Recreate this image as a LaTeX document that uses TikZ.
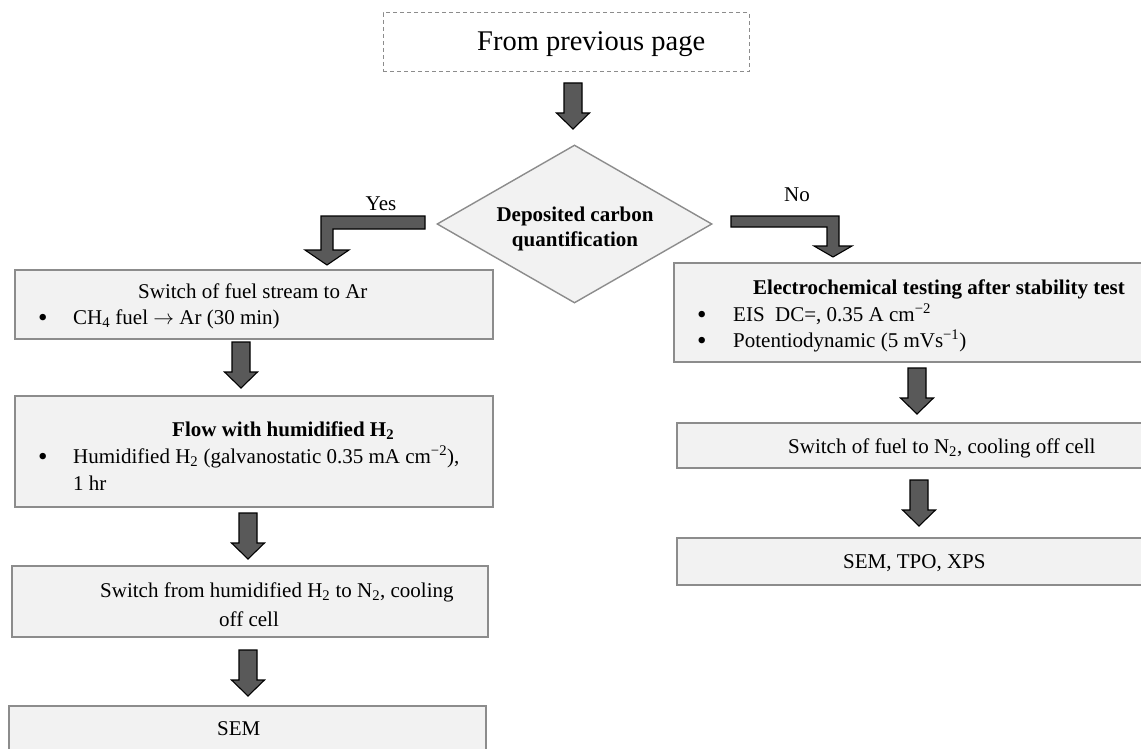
\documentclass[tikz,border=0pt]{standalone}
\usepackage{fontspec}
\setmainfont{Liberation Serif}
\usetikzlibrary{shapes.geometric}
\definecolor{boxfill}{HTML}{F2F2F2}
\definecolor{boxline}{HTML}{8C8C8C}
\definecolor{arrowfill}{HTML}{595959}
\tikzset{
  box/.style={rectangle, draw=boxline, fill=boxfill, line width=1.2pt, inner sep=0pt},
  txt/.style={inner sep=0pt, anchor=base west, font=\fontsize{21}{24}\selectfont},
  btxt/.style={inner sep=0pt, anchor=base west, font=\fontsize{21}{24}\selectfont\bfseries},
  bul/.style={inner sep=0pt, anchor=base west, font=\fontsize{27}{30}\selectfont},
  blk/.style={fill=arrowfill, draw=black, line width=1.1pt, line join=miter},
  pics/downarrow/.style={code={
    \filldraw[blk] (-9,0) -- (9,0) -- (9,30) -- (16.5,30) -- (0,46) -- (-16.5,30) -- (-9,30) -- cycle;}}
}
\begin{document}
\begin{tikzpicture}[x=1pt,y=-1pt]
\useasboundingbox (0,0) rectangle (1141,749);
\clip (0,0) rectangle (1141,749);
\fill[white] (0,0) rectangle (1141,749);

% top dashed box
\node[rectangle, draw=boxline, line width=1pt, dash pattern=on 4pt off 3pt, inner sep=0pt,
      minimum width=366pt, minimum height=59pt] (top) at (566,42.5) {};
\node[inner sep=0pt, anchor=base west, font=\fontsize{28.5}{32}\selectfont] (toptxt) at (477,51) {From previous page};
\pic at (573,83) {downarrow};

% decision
\node[diamond, draw=boxline, fill=boxfill, line width=1.4pt, inner sep=0pt, aspect=1.74,
      minimum width=275pt, minimum height=158pt] (dec) at (574.5,224) {};
\node[btxt, anchor=base] (dec1) at (575,221) {Deposited carbon};
\node[btxt, anchor=base] (dec2) at (575,246) {quantification};

% yes / no bent arrows
\coordinate (yesA) at (425,216);
\coordinate (noA) at (731,216);
\filldraw[blk] (yesA) -- (321,216) -- (321,250) -- (305,250) -- (327,265) -- (349,250) -- (333,250) -- (333,229) -- (425,229) -- cycle;
\filldraw[blk] (noA) -- (839,216) -- (839,246) -- (852,246) -- (833,257) -- (814,246) -- (827,246) -- (827,227) -- (731,227) -- cycle;
\node[txt, anchor=base] (yes) at (381,211) {Yes};
\node[txt, anchor=base] (no) at (797,201) {No};

% left column
\node[box, minimum width=478pt, minimum height=69pt] (L1) at (254,304.5) {};
\node[txt] (L1a) at (138,298) {Switch of fuel stream to Ar};
\node[bul] (L1b) at (38,326) {•};
\node[txt] (L1c) at (73,324) {CH\textsubscript{4} fuel $\rightarrow$ Ar (30 min)};
\pic at (241,342) {downarrow};

\node[box, minimum width=478pt, minimum height=111pt] (L2) at (254,451.5) {};
\node[btxt] (L2a) at (172,436) {Flow with humidified H\textsubscript{2}};
\node[bul] (L2b) at (38,465) {•};
\node[txt] (L2c) at (73,463) {Humidified H\textsubscript{2} (galvanostatic 0.35 mA cm\textsuperscript{−2}),};
\node[txt] (L2d) at (73,490) {1 hr};
\pic at (248,513) {downarrow};

\node[box, minimum width=476pt, minimum height=71pt] (L3) at (250,601.5) {};
\node[txt] (L3a) at (100,597) {Switch from humidified H\textsubscript{2} to N\textsubscript{2}, cooling};
\node[txt] (L3b) at (219,626) {off cell};
\pic at (248,650) {downarrow};

\node[box, minimum width=477pt, minimum height=60pt] (L4) at (247.5,736) {};
\node[txt] (L4a) at (217,735) {SEM};

% right column
\node[box, minimum width=490pt, minimum height=99pt] (R1) at (919,312.5) {};
\node[btxt] (R1a) at (753,294) {Electrochemical testing after stability test};
\node[bul] (R1b) at (697,323) {•};
\node[txt] (R1c) at (733,321) {EIS\ \ DC=, 0.35 A cm\textsuperscript{−2}};
\node[bul] (R1d) at (697,349) {•};
\node[txt] (R1e) at (733,347) {Potentiodynamic (5 mVs\textsuperscript{−1})};
\pic at (917,368) {downarrow};

\node[box, minimum width=490pt, minimum height=45pt] (R2) at (922,445.5) {};
\node[txt] (R2a) at (788,453) {Switch of fuel to N\textsubscript{2}, cooling off cell};
\pic at (919,480) {downarrow};

\node[box, minimum width=490pt, minimum height=47pt] (R3) at (922,561.5) {};
\node[txt] (R3a) at (843,568) {SEM, TPO, XPS};
\end{tikzpicture}
\end{document}
